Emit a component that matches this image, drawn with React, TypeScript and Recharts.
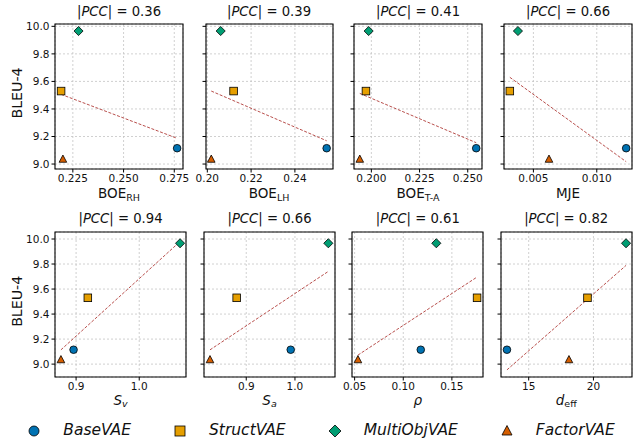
import { ScatterChart, Scatter, XAxis, YAxis, CartesianGrid, ReferenceArea } from "recharts";

const FONT = "'DejaVu Sans', Verdana, sans-serif";

// models in legend order
const models = ["BaseVAE", "StructVAE", "MultiObjVAE", "FactorVAE"];
const colors = ["#0072B2", "#E69F00", "#009E73", "#D55E00"];
const shapes = ["circle", "square", "diamond", "triangle"];

const bleu4 = [9.115, 9.53, 9.966, 9.035];
const bleuTicks = [9.0, 9.2, 9.4, 9.6, 9.8, 10.0];

// x metric per model (same order as models)
const boeRH = [0.2764, 0.2192, 0.2278, 0.2201];
const boeLH = [0.2545, 0.212, 0.2061, 0.2018];
const boeTA = [0.2544, 0.1972, 0.1986, 0.194];
const mje = [0.01232, 0.00314, 0.00378, 0.00623];
const sV = [0.896, 0.9186, 1.0647, 0.876];
const sA = [0.9913, 0.8804, 1.0685, 0.8256];
const rho = [0.118, 0.1759, 0.134, 0.0534];
const dEff = [13.32, 19.54, 22.52, 18.11];

const pcc = ["0.36", "0.39", "0.41", "0.66", "0.94", "0.66", "0.61", "0.82"];

// fitted line end points [x, bleu]
const fitRH = [[0.2192, 9.506], [0.2764, 9.187]];
const fitLH = [[0.2018, 9.53], [0.2545, 9.169]];
const fitTA = [[0.194, 9.513], [0.2544, 9.155]];
const fitMJE = [[0.00314, 9.63], [0.01232, 9.017]];
const fitSV = [[0.876, 9.114], [1.0647, 9.98]];
const fitSA = [[0.8256, 9.114], [1.0685, 9.741]];
const fitRho = [[0.0534, 9.072], [0.1759, 9.696]];
const fitDEff = [[13.32, 8.954], [22.52, 9.789]];

const ticksRH = [0.225, 0.25, 0.275];
const ticksLH = [0.2, 0.22, 0.24];
const ticksTA = [0.2, 0.225, 0.25];
const ticksMJE = [0.005, 0.01];
const ticksSV = [0.9, 1.0];
const ticksSA = [0.9, 1.0];
const ticksRho = [0.05, 0.1, 0.15];
const ticksDEff = [15, 20];

const TOP = { plotTop: 24, plotH: 145, yDomain: [8.964, 10.017], titleY: 16, labelY: 198.3 };
const BOTTOM = { plotTop: 232.3, plotH: 145, yDomain: [8.897, 10.056], titleY: 223, labelY: 405 };

const sub = (t: string, italic = false) => (
  <tspan fontSize={9.5} dy={2.3} fontStyle={italic ? "italic" : "normal"}>{t}</tspan>
);

const panels = [
  { xs: boeRH, fit: fitRH, row: TOP, col: 0, left: 55, width: 128, domain: [0.2162, 0.2793], ticks: ticksRH, digits: 3, label: <>BOE{sub("RH")}</> },
  { xs: boeLH, fit: fitLH, row: TOP, col: 1, left: 205.5, width: 127, domain: [0.1994, 0.2574], ticks: ticksLH, digits: 2, label: <>BOE{sub("LH")}</> },
  { xs: boeTA, fit: fitTA, row: TOP, col: 2, left: 354, width: 128, domain: [0.191, 0.2574], ticks: ticksTA, digits: 3, label: <>BOE{sub("T-A")}</> },
  { xs: mje, fit: fitMJE, row: TOP, col: 3, left: 504, width: 128, domain: [0.00268, 0.01278], ticks: ticksMJE, digits: 3, label: <>MJE</> },
  { xs: sV, fit: fitSV, row: BOTTOM, col: 0, left: 55, width: 131, domain: [0.8666, 1.0741], ticks: ticksSV, digits: 1, label: <tspan fontStyle="italic">S{sub("v", true)}</tspan> },
  { xs: sA, fit: fitSA, row: BOTTOM, col: 1, left: 204, width: 131, domain: [0.8133, 1.0822], ticks: ticksSA, digits: 1, label: <tspan fontStyle="italic">S{sub("a", true)}</tspan> },
  { xs: rho, fit: fitRho, row: BOTTOM, col: 2, left: 352.3, width: 131, domain: [0.0473, 0.182], ticks: ticksRho, digits: 2, label: <tspan fontStyle="italic">ρ</tspan> },
  { xs: dEff, fit: fitDEff, row: BOTTOM, col: 3, left: 500.7, width: 131, domain: [12.86, 22.98], ticks: ticksDEff, digits: 0, label: <><tspan fontStyle="italic">d</tspan>{sub("eff")}</> },
];

function Marker({ kind, cx, cy, size, color }: { kind: string; cx: number; cy: number; size: number; color: string }) {
  const h = size / 2;
  const common = { fill: color, stroke: "#000", strokeWidth: 0.8 };
  if (kind === "circle") return <circle cx={cx} cy={cy} r={h} {...common} />;
  if (kind === "square") return <rect x={cx - h} y={cy - h} width={size} height={size} {...common} />;
  if (kind === "diamond") {
    const d = size * 0.6;
    return <polygon points={`${cx},${cy - d} ${cx + d},${cy} ${cx},${cy + d} ${cx - d},${cy}`} {...common} />;
  }
  return <polygon points={`${cx},${cy - size * 0.55} ${cx + h},${cy + size * 0.4} ${cx - h},${cy + size * 0.4}`} {...common} />;
}

function Panel({ p }: { p: (typeof panels)[number] }) {
  const W = p.width + 50;
  const H = p.row.plotH + 40;
  const fitData = p.fit.map(([x, y]) => ({ x, y }));
  return (
    <div style={{ position: "absolute", left: p.left - 40, top: p.row.plotTop - 10 }}>
      <ScatterChart width={W} height={H} margin={{ top: 10, right: 10, bottom: 10, left: 4 }}>
        <CartesianGrid stroke="#c4c4c4" strokeDasharray="2 2" strokeWidth={0.8} />
        <XAxis
          type="number"
          dataKey="x"
          domain={p.domain}
          allowDataOverflow
          ticks={p.ticks}
          interval={0}
          height={20}
          tickSize={3.5}
          tickMargin={2}
          tickFormatter={(v: number) => v.toFixed(p.digits)}
          axisLine={false}
          tickLine={{ stroke: "#000" }}
          tick={{ fill: "#111", fontSize: 10.5, fontFamily: FONT }}
        />
        <YAxis
          type="number"
          dataKey="y"
          domain={p.row.yDomain}
          allowDataOverflow
          ticks={bleuTicks}
          interval={0}
          width={36}
          tickSize={3.5}
          tickMargin={2}
          tickFormatter={(v: number) => (p.col === 0 ? v.toFixed(1) : "")}
          axisLine={false}
          tickLine={{ stroke: "#000" }}
          tick={{ fill: "#111", fontSize: 10.5, fontFamily: FONT }}
        />
        <Scatter
          data={fitData}
          line={{ stroke: "#b9504d", strokeWidth: 1, strokeDasharray: "3 1.6" }}
          shape={() => <g />}
          isAnimationActive={false}
        />
        {models.map((m, i) => (
          <Scatter
            key={m}
            name={m}
            data={[{ x: p.xs[i], y: bleu4[i] }]}
            isAnimationActive={false}
            shape={(s: any) => <Marker kind={shapes[i]} cx={s.cx} cy={s.cy} size={7.6} color={colors[i]} />}
          />
        ))}
        <ReferenceArea
          x1={p.domain[0]}
          x2={p.domain[1]}
          y1={p.row.yDomain[0]}
          y2={p.row.yDomain[1]}
          fill="none"
          stroke="#000"
          strokeWidth={1.1}
          ifOverflow="visible"
        />
      </ScatterChart>
    </div>
  );
}

export default function App() {
  return (
    <div style={{ position: "absolute", left: 0, top: 0, width: 639, height: 439, background: "#fff", fontFamily: FONT }}>
      {panels.map((p, i) => (
        <Panel key={i} p={p} />
      ))}
      <svg width={639} height={439} style={{ position: "absolute", left: 0, top: 0, pointerEvents: "none" }} fontFamily={FONT} fill="#111">
        {panels.map((p, i) => {
          const cx = p.left + p.width / 2;
          return (
            <g key={i}>
              <text x={cx} y={p.row.titleY} textAnchor="middle" fontSize={13.2}>
                |<tspan fontStyle="italic">PCC</tspan>
                {`| = ${pcc[i]}`}
              </text>
              <text x={cx} y={p.row.labelY} textAnchor="middle" fontSize={13.5}>
                {p.label}
              </text>
            </g>
          );
        })}
        <text transform={`translate(21.8, ${TOP.plotTop + 69}) rotate(-90)`} textAnchor="middle" fontSize={14.2}>BLEU-4</text>
        <text transform={`translate(21.8, ${BOTTOM.plotTop + 69}) rotate(-90)`} textAnchor="middle" fontSize={14.2}>BLEU-4</text>
      </svg>
      <div style={{ position: "absolute", left: 28.3, top: 421.6, display: "flex", alignItems: "flex-start", height: 16, lineHeight: "16px", fontSize: 15.5, fontStyle: "italic", color: "#111" }}>
        {models.map((m, i) => (
          <div key={m} style={{ display: "flex", alignItems: "flex-start", marginRight: 43 }}>
            <svg width={12} height={14} style={{ marginTop: 3.4, marginRight: 23, overflow: "visible" }}>
              <Marker kind={shapes[i]} cx={6} cy={6} size={10} color={colors[i]} />
            </svg>
            <span>{m}</span>
          </div>
        ))}
      </div>
    </div>
  );
}
